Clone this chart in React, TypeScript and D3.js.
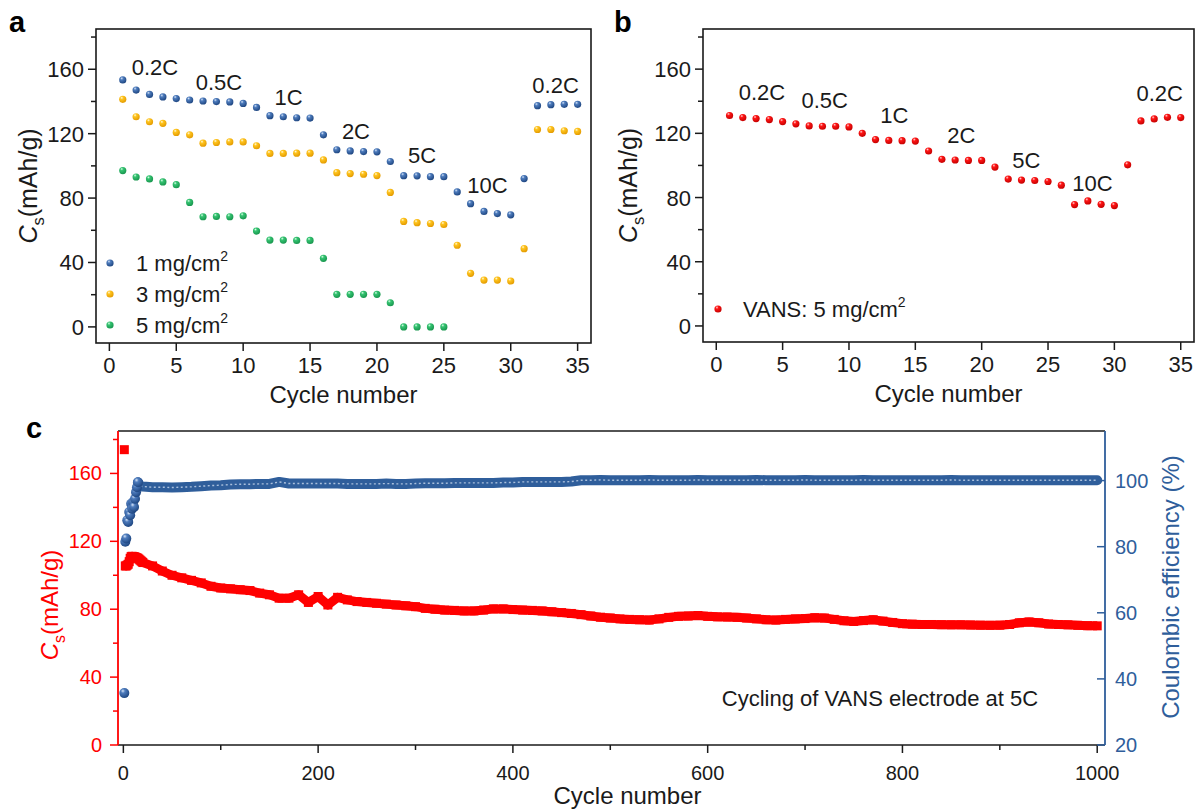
import React from 'react';
import * as d3 from 'd3';

// ---------- Panel a / b data ----------
const cyclesAB = [1,2,3,4,5,6,7,8,9,10,11,12,13,14,15,16,17,18,19,20,21,22,23,24,25,26,27,28,29,30,31,32,33,34,35];
const load1 = [153.4,147.1,144.4,142.8,141.8,140.9,140.3,139.9,139.7,138.8,136.3,131.2,130.5,129.9,129.7,119.3,110.0,109.3,108.9,108.7,102.7,93.9,93.8,93.3,93.3,83.8,76.5,71.7,70.4,69.6,92.1,137.4,138.0,138.2,138.2];
const load3 = [141.3,130.5,127.4,126.4,120.8,119.3,114.1,114.5,114.9,114.9,112.5,107.7,107.7,107.9,107.9,103.7,95.8,95.2,94.8,94.0,83.5,65.5,64.7,64.2,63.6,50.7,33.3,29.1,29.1,28.5,48.6,122.6,122.6,121.8,121.4];
const load5 = [97.1,93.1,91.9,90.0,88.3,77.3,68.4,68.6,68.4,69.0,59.5,53.9,53.9,53.7,53.7,42.6,20.2,20.2,20.2,20.2,15.0,0,0,0,0];
const vans5 = [131.1,129.8,129.2,128.6,127.3,125.9,124.6,124.4,124.4,124.0,120.0,116.1,115.6,115.4,115.2,109.0,103.8,103.4,103.1,103.1,99.0,91.5,90.9,90.6,90.0,87.7,75.6,77.9,75.8,75.0,100.4,127.7,129.0,130.0,129.8];

const rateLabels = ['0.2C','0.5C','1C','2C','5C','10C','0.2C'];
const rateAnchorA = [[3.41,156.4],[8.19,147.3],[13.39,138.0],[18.43,116.9],[23.37,101.8],[28.26,83.2],[33.35,145.3]];
const rateAnchorB = [[3.44,141.0],[8.17,135.8],[13.42,126.4],[18.47,114.0],[23.37,98.4],[28.34,84.1],[33.42,140.1]];

const xTicksAB = [0,5,10,15,20,25,30,35];
const yTicksAB = [0,40,80,120,160];
const yMinorAB = [20,60,100,140,180];

// ---------- Panel c data ----------
const cyclesC = [1,2,3,4,5,6,7,8,9,10,11,12,13,14,15,16,17,18,19,20,
  30,40,50,60,70,80,90,100,110,120,
  130,140,150,160,170,180,190,200,210,220,
  230,240,250,260,270,280,290,300,310,320,
  330,340,350,360,370,380,390,400,410,420,
  430,440,450,460,470,480,490,500,510,520,
  530,540,550,560,570,580,590,600,610,620,
  630,640,650,660,670,680,690,700,710,720,
  730,740,750,760,770,780,790,800,810,820,
  830,840,850,860,870,880,890,900,910,920,
  930,940,950,960,970,980,990,1000];
const capacityC = [174,105.5,105.5,106,106.5,108,110,111,111.2,111,111,110.8,110.5,110.3,110,109.5,109,108.5,108,107.5,
  105.5,102.5,100,98.5,97,95.5,93.5,92.5,92,91.5,
  91,89.5,88.5,86.5,86.5,88.5,84,87.5,82.5,87,
  85.5,84.5,84,83.5,83,82.5,82,81.5,80.5,80,
  79.5,79.3,79,79,79.5,80.2,80.2,79.8,79.5,79.3,
  79,78.5,78,77.5,76.8,76,75.3,74.8,74.3,74,
  73.8,73.6,74.3,75.2,75.8,76,76.3,75.8,75.5,75.4,
  75.2,74.8,74.3,73.8,73.6,74,74.3,74.5,75,74.8,
  74,73.2,72.8,73.3,73.8,73,72.2,71.5,71.2,71,
  71,70.9,70.8,70.8,70.7,70.6,70.5,70.6,71,72,
  72.5,72,71.3,71,70.8,70.5,70.3,70.2];
const efficiencyC = [35.7,81.5,82.5,88,87.5,90.5,89.5,93,91.5,93.5,92,94.5,96.5,98,99.5,99,98.5,98.3,98.2,98.2,
  98.0,98.0,97.9,98.0,98.1,98.3,98.5,98.6,98.8,98.9,
  98.9,99.0,99.0,99.6,99.1,99.1,99.1,99.1,99.1,99.1,
  99.0,99.0,99.0,99.0,99.1,99.0,99.0,99.1,99.2,99.2,
  99.2,99.3,99.3,99.3,99.3,99.3,99.4,99.4,99.6,99.6,
  99.6,99.6,99.6,99.7,100.1,100.1,100.2,100.1,100.1,100.1,
  100.1,100.2,100.1,100.1,100.1,100.1,100.2,100.1,100.1,100.1,
  100.1,100.1,100.2,100.1,100.1,100.1,100.1,100.2,100.1,100.1,
  100.1,100.1,100.1,100.2,100.1,100.1,100.1,100.1,100.1,100.1,
  100.1,100.1,100.2,100.1,100.1,100.1,100.1,100.1,100.1,100.1,
  100.1,100.1,100.1,100.1,100.1,100.1,100.1,100.1];

const xTicksC = [0,200,400,600,800,1000];
const xMinorC = [100,300,500,700,900];
const yTicksCL = [0,40,80,120,160];
const yMinorCL = [20,60,100,140,180];
const yTicksCR = [20,40,60,80,100];

const FONT = "'Liberation Sans', Arial, Helvetica, sans-serif";
const INK = '#1a1a1a';
const RED = '#ff0000';
const BLUE = '#2f5e9b';

function CsTitle({ x, y, size, color }: { x: number; y: number; size: number; color: string }) {
  return (
    <text transform={`translate(${x},${y}) rotate(-90)`} textAnchor="middle" fontSize={size} fill={color}>
      <tspan fontStyle="italic">C</tspan>
      <tspan fontSize={size * 0.66} dy={size * 0.28}>s</tspan>
      <tspan dy={-size * 0.28}>(mAh/g)</tspan>
    </text>
  );
}

function RatePanel({ left, top, right, bottom, series, anchors, label, labelX, yTitleX }: any) {
  const x = d3.scaleLinear().domain([-1, 36]).range([left, right]);
  const y = d3.scaleLinear().domain([-10, 185]).range([bottom, top]);
  return (
    <g>
      <text x={labelX} y={32} fontSize={29} fontWeight="bold" fill="#000">{label}</text>
      {series.map((s: any, si: number) =>
        s.values.map((v: number, i: number) => (
          <circle key={si + '-' + i} cx={x(cyclesAB[i])} cy={y(v)} r={3.6} fill={`url(#${s.grad})`} />
        ))
      )}
      {anchors.map((a: number[], i: number) => (
        <text key={'r' + i} x={x(a[0])} y={y(a[1])} textAnchor="middle" fontSize={22} fill={INK}>{rateLabels[i]}</text>
      ))}
      <rect x={left} y={top} width={right - left} height={bottom - top} fill="none" stroke={INK} strokeWidth={1.6} />
      {xTicksAB.map((t) => (
        <g key={'xt' + t}>
          <line x1={x(t)} x2={x(t)} y1={bottom} y2={bottom + 8} stroke={INK} strokeWidth={1.5} />
          <text x={x(t)} y={bottom + 30} textAnchor="middle" fontSize={22} fill={INK}>{t}</text>
        </g>
      ))}
      {yTicksAB.map((t) => (
        <g key={'yt' + t}>
          <line x1={left - 8} x2={left} y1={y(t)} y2={y(t)} stroke={INK} strokeWidth={1.5} />
          <text x={left - 12} y={y(t) + 8} textAnchor="end" fontSize={22} fill={INK}>{t}</text>
        </g>
      ))}
      {yMinorAB.map((t) => (
        <line key={'ym' + t} x1={left - 5} x2={left} y1={y(t)} y2={y(t)} stroke={INK} strokeWidth={1.5} />
      ))}
      <text x={(left + right) / 2} y={bottom + 60} textAnchor="middle" fontSize={24} fill={INK}>Cycle number</text>
      <CsTitle x={yTitleX} y={(top + bottom) / 2} size={25} color={INK} />
    </g>
  );
}

export default function App() {
  const L = 118, R = 1105, T = 431, B = 745;
  const xC = d3.scaleLinear().domain([-5.5, 1008]).range([L, R]);
  const yL = d3.scaleLinear().domain([0, 185]).range([B, T]);
  const yR = d3.scaleLinear().domain([20, 115]).range([B, T]);

  const capPts = cyclesC.map((c, i) => [c, capacityC[i]] as [number, number]);
  const cePts = cyclesC.map((c, i) => [c, efficiencyC[i]] as [number, number]);
  const capLine = d3.line<[number, number]>().x((d) => xC(d[0])).y((d) => yL(d[1]));
  const ceLine = d3.line<[number, number]>().x((d) => xC(d[0])).y((d) => yR(d[1]));

  return (
    <svg width={1195} height={809} style={{ position: 'absolute', left: 0, top: 0, background: '#fff' }} fontFamily={FONT}>
      <defs>
        <radialGradient id="gBlue" cx="38%" cy="32%" r="70%" fx="35%" fy="28%">
          <stop offset="0%" stopColor="#d6e4f7" />
          <stop offset="30%" stopColor="#4e7cbd" />
          <stop offset="100%" stopColor="#1d4580" />
        </radialGradient>
        <radialGradient id="gYellow" cx="38%" cy="32%" r="70%" fx="35%" fy="28%">
          <stop offset="0%" stopColor="#fffbe3" />
          <stop offset="30%" stopColor="#ffc51f" />
          <stop offset="100%" stopColor="#e39a00" />
        </radialGradient>
        <radialGradient id="gGreen" cx="38%" cy="32%" r="70%" fx="35%" fy="28%">
          <stop offset="0%" stopColor="#dcffe9" />
          <stop offset="30%" stopColor="#36c472" />
          <stop offset="100%" stopColor="#17954d" />
        </radialGradient>
        <radialGradient id="gRed" cx="38%" cy="32%" r="70%" fx="35%" fy="28%">
          <stop offset="0%" stopColor="#ffd6d6" />
          <stop offset="30%" stopColor="#ff1515" />
          <stop offset="100%" stopColor="#c40000" />
        </radialGradient>
      </defs>

      {/* Panel a */}
      <RatePanel left={96} top={29} right={591} bottom={343} label="a" labelX={9} yTitleX={37}
        anchors={rateAnchorA}
        series={[{ values: load1, grad: 'gBlue' }, { values: load3, grad: 'gYellow' }, { values: load5, grad: 'gGreen' }]} />
      <g fontSize={22} fill={INK}>
        <circle cx={110} cy={263} r={3.6} fill="url(#gBlue)" />
        <text x={136} y={271} fill={INK}>1 mg/cm<tspan fontSize={14} dy={-10}>2</tspan></text>
        <circle cx={110} cy={294} r={3.6} fill="url(#gYellow)" />
        <text x={136} y={302} fill={INK}>3 mg/cm<tspan fontSize={14} dy={-10}>2</tspan></text>
        <circle cx={110} cy={325} r={3.6} fill="url(#gGreen)" />
        <text x={136} y={333} fill={INK}>5 mg/cm<tspan fontSize={14} dy={-10}>2</tspan></text>
      </g>

      {/* Panel b */}
      <RatePanel left={703} top={29} right={1194} bottom={342} label="b" labelX={614} yTitleX={637}
        anchors={rateAnchorB}
        series={[{ values: vans5, grad: 'gRed' }]} />
      <g>
        <circle cx={718} cy={309} r={3.6} fill="url(#gRed)" />
        <text x={743} y={317} fontSize={22} fill={INK}>VANS: 5 mg/cm<tspan fontSize={14} dy={-10}>2</tspan></text>
      </g>

      {/* Panel c */}
      <text x={26} y={438} fontSize={29} fontWeight="bold" fill="#000">c</text>
      <path d={capLine(capPts.slice(1)) || ''} fill="none" stroke={RED} strokeWidth={9} strokeLinejoin="round" />
      {capPts.map((d, i) => (
        <rect key={'cap' + i} x={xC(d[0]) - 4.5} y={yL(d[1]) - 4.5} width={9} height={9} fill={RED} />
      ))}
      <path d={ceLine(cePts.slice(14)) || ''} fill="none" stroke={BLUE} strokeWidth={10} strokeLinejoin="round" strokeLinecap="round" />
      <path d={ceLine(cePts.slice(14)) || ''} fill="none" stroke="#a9bfdc" strokeWidth={1.4} strokeDasharray="2 2.5" />
      {cePts.slice(0, 15).map((d, i) => (
        <circle key={'ce' + i} cx={xC(d[0])} cy={yR(d[1])} r={5} fill="url(#gBlue)" />
      ))}
      <text x={880} y={706} textAnchor="middle" fontSize={22} fill={INK}>Cycling of VANS electrode at 5C</text>

      {/* frame c */}
      <line x1={L} x2={R} y1={T} y2={T} stroke={INK} strokeWidth={1.5} />
      <line x1={L} x2={R} y1={B} y2={B} stroke={INK} strokeWidth={1.5} />
      <line x1={L} x2={L} y1={T} y2={B} stroke={RED} strokeWidth={1.8} />
      <line x1={R} x2={R} y1={T} y2={B} stroke={BLUE} strokeWidth={1.8} />
      {xTicksC.map((t) => (
        <g key={'cx' + t}>
          <line x1={xC(t)} x2={xC(t)} y1={B} y2={B + 8} stroke={INK} strokeWidth={1.5} />
          <text x={xC(t)} y={B + 35} textAnchor="middle" fontSize={20} fill={INK}>{t}</text>
        </g>
      ))}
      {xMinorC.map((t) => (
        <line key={'cxm' + t} x1={xC(t)} x2={xC(t)} y1={B} y2={B + 5} stroke={INK} strokeWidth={1.5} />
      ))}
      {yTicksCL.map((t) => (
        <g key={'cl' + t}>
          <line x1={L - 8} x2={L} y1={yL(t)} y2={yL(t)} stroke={RED} strokeWidth={1.5} />
          <text x={L - 16} y={yL(t) + 7} textAnchor="end" fontSize={20} fill={RED}>{t}</text>
        </g>
      ))}
      {yMinorCL.map((t) => (
        <line key={'clm' + t} x1={L - 5} x2={L} y1={yL(t)} y2={yL(t)} stroke={RED} strokeWidth={1.5} />
      ))}
      {yTicksCR.map((t) => (
        <g key={'cr' + t}>
          <line x1={R - 8} x2={R} y1={yR(t)} y2={yR(t)} stroke={BLUE} strokeWidth={1.5} />
          <text x={R + 10} y={yR(t) + 7} textAnchor="start" fontSize={20} fill={BLUE}>{t}</text>
        </g>
      ))}
      <text x={(L + R) / 2 + 16} y={804} textAnchor="middle" fontSize={24} fill={INK}>Cycle number</text>
      <CsTitle x={58} y={605} size={24} color={RED} />
      <text transform={`translate(1179,587) rotate(-90)`} textAnchor="middle" fontSize={24} fill={BLUE}>Coulombic efficiency (%)</text>
    </svg>
  );
}
